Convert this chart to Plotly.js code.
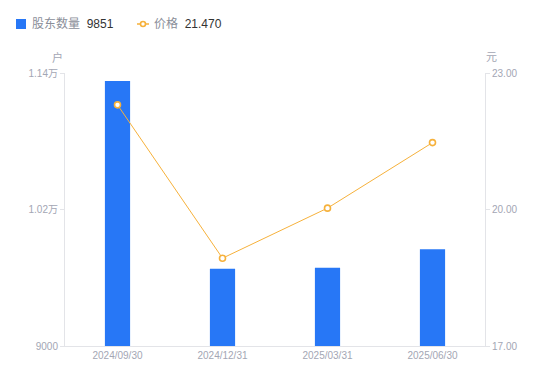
<!DOCTYPE html>
<html><head><meta charset="utf-8">
<script src="https://cdn.plot.ly/plotly-3.0.1.min.js"></script>
<style>html,body{margin:0;padding:0;background:#fff}#c{width:550px;height:381px}</style>
</head><body><div id="c"></div>
<script>
const categories = ['2024/09/30','2024/12/31','2025/03/31','2025/06/30'];
const holders = [11330, 9680, 9688, 9851];
const prices = [22.30, 18.93, 20.03, 21.47];
const leftTickVals = [9000, 10200, 11400];
const leftTickText = ['9000','1.02万','1.14万'];
const rightTickVals = [17, 20, 23];
const rightTickText = ['17.00','20.00','23.00'];

const font = '"Liberation Sans", "Noto Sans CJK SC", sans-serif';
const blue = '#2777F6', orange = '#F6B13B', gray = '#A3A6B4';

// pixel -> paper helpers (plot area 65..485 x, 73..346 y)
const L = 65, R = 485, T = 73, B = 346;
const px = v => (v - L) / (R - L);
const py = v => (B - v) / (B - T);

const data = [
  {type:'bar', x:categories, y:holders, name:'股东数量',
   marker:{color:blue}, width:0.24, yaxis:'y', hoverinfo:'skip'},
  {type:'scatter', mode:'lines+markers', x:categories, y:prices, yaxis:'y2', name:'价格',
   line:{color:orange, width:1}, marker:{symbol:'circle', size:6, color:'#fff', line:{color:orange, width:1.6}}, hoverinfo:'skip'}
];
const legY = 24;
const layout = {
  width:550, height:381, margin:{l:L, r:550-R, t:T, b:381-B},
  paper_bgcolor:'#fff', plot_bgcolor:'#fff', font:{family:font, size:11, color:gray},
  showlegend:false,
  xaxis:{type:'category', range:[-0.5,3.5], showgrid:false, showline:true, linecolor:'#E3E4E8', linewidth:1, ticks:'', tickfont:{size:10, color:gray}},
  yaxis:{range:[9000,11400], tickvals:leftTickVals, ticktext:leftTickText, showgrid:false, zeroline:false, showline:true, linecolor:'#E3E4E8', ticks:'outside', ticklen:4, tickcolor:'#E3E4E8', tickfont:{size:10, color:gray}},
  yaxis2:{range:[17,23], overlaying:'y', side:'right', tickvals:rightTickVals, ticktext:rightTickText, showgrid:false, zeroline:false, showline:true, linecolor:'#E3E4E8', ticks:'outside', ticklen:4, tickcolor:'#E3E4E8', tickfont:{size:10, color:gray}},
  shapes:[
    {type:'rect', xref:'paper', yref:'paper', x0:px(16), x1:px(26), y0:py(29), y1:py(19), fillcolor:blue, line:{width:0}},
    {type:'line', xref:'paper', yref:'paper', x0:px(137), x1:px(149), y0:py(legY), y1:py(legY), line:{color:orange, width:1.5}},
    {type:'circle', xref:'paper', yref:'paper', x0:px(140.5), x1:px(145.5), y0:py(26.5), y1:py(21.5), fillcolor:'#fff', line:{color:orange, width:1.6}}
  ],
  annotations:[
    {text:data[0].name + '  <span style="color:#333">' + holders[holders.length-1] + '</span>', xref:'paper', yref:'paper', x:px(30), y:py(legY), xanchor:'left', yanchor:'middle', showarrow:false, font:{size:12, color:'#8A8E99'}},
    {text:data[1].name + '  <span style="color:#333">' + prices[prices.length-1].toFixed(3) + '</span>', xref:'paper', yref:'paper', x:px(152), y:py(legY), xanchor:'left', yanchor:'middle', showarrow:false, font:{size:12, color:'#8A8E99'}},
    {text:'户', xref:'paper', yref:'paper', x:px(65), y:py(57), xanchor:'right', yanchor:'middle', showarrow:false, font:{size:11, color:gray}},
    {text:'元', xref:'paper', yref:'paper', x:px(484), y:py(57), xanchor:'left', yanchor:'middle', showarrow:false, font:{size:11, color:gray}}
  ]
};
Plotly.newPlot('c', data, layout, {displayModeBar:false, staticPlot:true});
</script></body></html>
